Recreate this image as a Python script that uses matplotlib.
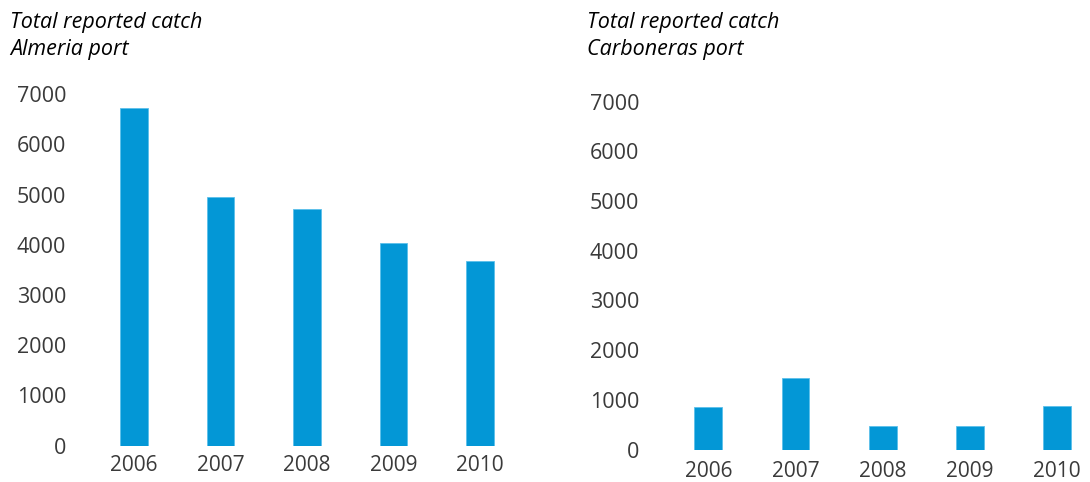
import matplotlib.pyplot as plt

years = ['2006', '2007', '2008', '2009', '2010']
almeria = [6720, 4960, 4720, 4040, 3670]
carboneras = [846, 1430, 475, 475, 878]

W, H = 1090, 482
bar_color = '#0397d6'
tick_color = '#3a3a3a'

plt.rcParams['font.family'] = ['Open Sans', 'DejaVu Sans']

fig = plt.figure(figsize=(W / 100, H / 100), dpi=100)


def px_axes(left, right, top, bottom):
    # pixel box (from top-left) -> figure fraction
    return fig.add_axes([left / W, (H - bottom) / H, (right - left) / W, (bottom - top) / H])


def draw(ax, values, ypad, xpad):
    x = range(len(years))
    ax.bar(x, values, width=0.32, color=bar_color, edgecolor='#5cc0ea', linewidth=0.6)
    ax.set_xlim(-0.5, len(years) - 0.5)
    ax.set_ylim(0, 7000)
    ax.set_yticks(range(0, 7001, 1000))
    ax.set_xticks(list(x))
    ax.set_xticklabels(years)
    ax.tick_params(axis='y', length=0, pad=ypad, labelsize=15.5, labelcolor=tick_color)
    ax.tick_params(axis='x', length=0, pad=xpad, labelsize=15, labelcolor=tick_color)
    for s in ax.spines.values():
        s.set_visible(False)
    ax.patch.set_alpha(0)


ax1 = px_axes(91, 523, 94.3, 445.5)
draw(ax1, almeria, 18, 6.5)

ax2 = px_axes(664.7, 1100.6, 101.7, 449.5)
draw(ax2, carboneras, 18.5, 8)

fig.text(10 / W, 1 - 12 / H, 'Total reported catch\nAlmeria port', ha='left', va='top',
         fontsize=15.5, style='italic', color='black', linespacing=1.4)
fig.text(587 / W, 1 - 12 / H, 'Total reported catch\nCarboneras port', ha='left', va='top',
         fontsize=15.5, style='italic', color='black', linespacing=1.4)

fig.savefig('out.png', dpi=100)
